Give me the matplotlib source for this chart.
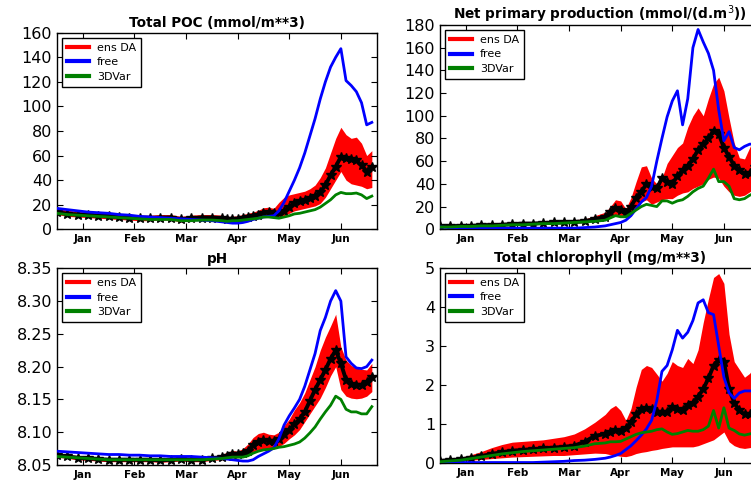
import matplotlib
matplotlib.use("Agg")
import matplotlib.pyplot as plt
from matplotlib.lines import Line2D
from matplotlib.ticker import FormatStrFormatter

# day of year; coarse in winter, finer through the spring bloom
days = [0, 6, 12, 18, 24, 30, 36, 42, 48, 54, 60, 66, 72, 78, 84, 90,
        96, 99, 102, 105, 108, 111, 114, 117, 120, 123, 126, 129, 132, 135, 138,
        141, 144, 147, 150, 153, 156, 159, 162, 165, 168, 171, 174, 177, 180, 183]
months = ["Jan", "Feb", "Mar", "Apr", "May", "Jun"]
month_ticks = [15, 45, 75, 105, 135, 165]
legend_labels = ["ens DA", "free", "3DVar"]

# Total POC
poc_free = [17, 16, 15, 14, 13.5, 13, 12, 11.5, 10.5, 10, 9.5, 9, 8.5, 8, 7.5, 7,
            6, 5.5, 5, 5, 5.5, 6.5, 8, 9, 10, 10.5, 11, 15, 22, 31, 40,
            50, 62, 76, 90, 106, 120, 132, 140, 147, 121, 117, 112, 103, 85, 87]
poc_mean = [14, 12.5, 12, 11.5, 11, 10.5, 10, 9.5, 9, 9, 9.5, 9.5, 8, 9, 9.5, 9.5,
            9, 8, 8, 8.5, 9.5, 10, 11, 12, 13.5, 14, 13, 13, 15, 18, 21,
            23, 24, 25.5, 27, 30, 36, 44, 51, 59, 58, 57, 56, 52, 47, 51]
poc_hi = [17, 15.5, 14.5, 14, 13.5, 13, 12.5, 12, 11.5, 11.5, 12, 12, 10.5, 11.5, 12, 12,
          11.5, 10.5, 10.5, 11, 12, 13, 14, 15.5, 17.5, 18, 17, 22, 26, 28, 29,
          30, 31, 33, 36, 42, 50, 62, 74, 83, 77, 74, 75, 70, 60, 64]
poc_lo = [12, 10.5, 10, 9.5, 9, 8.5, 8, 7.5, 7, 7, 7.5, 7.5, 6, 7, 7.5, 7.5,
          7, 6, 6, 6.5, 7.5, 8, 9, 10, 11, 11, 10, 10, 11, 13, 15,
          16, 17, 18, 19, 21, 26, 33, 40, 47, 40, 37, 36, 35, 33, 34]
poc_3dvar = [13, 12, 11.5, 11, 10.5, 10, 9.5, 9, 8.5, 8, 8, 8, 7, 7, 7.5, 7.5,
             7, 6.5, 7, 7, 7.5, 8, 8.5, 9, 10, 10, 9.5, 9, 10, 11, 12.5,
             13, 14, 15, 16, 18, 21, 24, 28, 30, 29, 29, 29.5, 28, 25, 27]

# Net primary production
npp_free = [2, 1.5, 1.5, 1, 1, 1, 1, 1, 1, 1, 1, 1, 1, 1, 1.5, 2,
            3, 4, 5, 6, 8, 12, 18, 24, 28, 38, 60, 80, 99, 113, 122,
            92, 115, 160, 176, 165, 155, 140, 105, 78, 86, 72, 70, 73, 75, 75]
npp_mean = [2.5, 2.5, 3, 3, 3.5, 3.5, 4, 4.5, 5, 5, 5.5, 6, 6, 6.5, 7, 9,
            11, 15, 19, 17, 14, 20, 28, 33, 40, 37, 36, 45, 42, 40, 47,
            52, 56, 62, 70, 75, 80, 87, 84, 72, 64, 56, 52, 49, 50, 55]
npp_hi = [3.5, 3.5, 4, 4, 4.5, 5, 5, 5.5, 6, 6.5, 7, 7.5, 8, 8.5, 9, 12,
          15, 20, 26, 25, 18, 28, 42, 55, 56, 45, 40, 45, 58, 65, 72,
          76, 90, 100, 107, 100, 115, 128, 134, 122, 98, 76, 63, 62, 72, 82]
npp_lo = [1.5, 1.5, 2, 2, 2.5, 2.5, 3, 3.5, 4, 4, 4.5, 5, 5, 5.5, 6, 7,
          8, 11, 13, 12, 11, 15, 20, 24, 26, 22, 24, 26, 27, 27, 30,
          32, 33, 36, 38, 40, 44, 46, 45, 38, 33, 30, 29, 30, 33, 36]
npp_3dvar = [2, 2, 2.5, 2.5, 3, 3, 3.5, 4, 4, 4.5, 5, 5, 5.5, 6, 6.5, 7,
             8, 10, 12, 11, 11, 14, 17, 20, 22, 21, 20, 25, 25, 23, 25,
             26, 29, 33, 36, 38, 45, 53, 42, 42, 38, 27, 26, 27, 30, 32]

# pH
ph_free = [8.071, 8.070, 8.069, 8.068, 8.067, 8.066, 8.066, 8.065, 8.065, 8.064, 8.064, 8.063, 8.063, 8.063, 8.062, 8.061,
           8.060, 8.059, 8.058, 8.057, 8.056, 8.056, 8.058, 8.063, 8.067, 8.071, 8.076, 8.090, 8.111, 8.125, 8.137,
           8.150, 8.170, 8.195, 8.220, 8.255, 8.275, 8.300, 8.316, 8.300, 8.215, 8.205, 8.198, 8.197, 8.200, 8.210]
ph_mean = [8.065, 8.063, 8.061, 8.060, 8.059, 8.058, 8.058, 8.058, 8.058, 8.058, 8.057, 8.058, 8.059, 8.058, 8.058, 8.060,
           8.062, 8.064, 8.066, 8.066, 8.068, 8.072, 8.080, 8.085, 8.088, 8.087, 8.086, 8.090, 8.097, 8.104, 8.112,
           8.120, 8.131, 8.148, 8.165, 8.180, 8.195, 8.212, 8.225, 8.205, 8.180, 8.174, 8.172, 8.172, 8.177, 8.184]
ph_hi = [8.068, 8.066, 8.064, 8.063, 8.062, 8.061, 8.061, 8.061, 8.061, 8.061, 8.060, 8.061, 8.062, 8.061, 8.061, 8.063,
         8.066, 8.070, 8.072, 8.071, 8.075, 8.082, 8.092, 8.098, 8.100, 8.097, 8.096, 8.100, 8.110, 8.120, 8.134,
         8.145, 8.160, 8.180, 8.200, 8.225, 8.245, 8.262, 8.280, 8.230, 8.210, 8.202, 8.198, 8.196, 8.195, 8.205]
ph_lo = [8.062, 8.060, 8.058, 8.057, 8.056, 8.055, 8.055, 8.055, 8.055, 8.055, 8.054, 8.055, 8.056, 8.055, 8.055, 8.057,
         8.058, 8.060, 8.061, 8.061, 8.062, 8.064, 8.068, 8.072, 8.074, 8.074, 8.075, 8.078, 8.083, 8.090, 8.096,
         8.104, 8.116, 8.128, 8.140, 8.152, 8.168, 8.186, 8.200, 8.165, 8.155, 8.152, 8.151, 8.152, 8.155, 8.162]
ph_3dvar = [8.063, 8.062, 8.061, 8.060, 8.059, 8.058, 8.058, 8.058, 8.058, 8.058, 8.058, 8.058, 8.058, 8.058, 8.058, 8.059,
            8.060, 8.061, 8.062, 8.062, 8.062, 8.064, 8.068, 8.071, 8.073, 8.074, 8.075, 8.077, 8.078, 8.080, 8.082,
            8.085, 8.091, 8.099, 8.108, 8.120, 8.131, 8.141, 8.155, 8.150, 8.135, 8.131, 8.131, 8.128, 8.128, 8.139]

# Total chlorophyll
chl_free = [0.02, 0.02, 0.02, 0.02, 0.02, 0.02, 0.02, 0.02, 0.02, 0.02, 0.03, 0.04, 0.05, 0.07, 0.08, 0.10,
            0.13, 0.16, 0.20, 0.25, 0.35, 0.45, 0.58, 0.72, 0.88, 1.1, 1.6, 2.35, 2.5, 2.9, 3.4,
            3.2, 3.35, 3.65, 4.1, 4.18, 3.85, 3.8, 3.0, 2.2, 1.8, 1.66, 1.8, 1.85, 1.85, 1.85]
chl_mean = [0.06, 0.08, 0.1, 0.14, 0.18, 0.24, 0.28, 0.32, 0.34, 0.36, 0.38, 0.4, 0.42, 0.45, 0.55, 0.7,
            0.75, 0.8, 0.85, 0.82, 0.9, 1.05, 1.25, 1.38, 1.42, 1.38, 1.32, 1.3, 1.32, 1.45, 1.4,
            1.35, 1.5, 1.55, 1.7, 1.9, 2.17, 2.5, 2.65, 2.6, 1.9, 1.55, 1.35, 1.25, 1.25, 1.3]
chl_hi = [0.1, 0.12, 0.15, 0.22, 0.3, 0.4, 0.48, 0.54, 0.56, 0.58, 0.6, 0.64, 0.68, 0.75, 0.88, 1.05,
          1.25, 1.4, 1.48, 1.35, 1.1, 1.4, 1.95, 2.4, 2.5, 2.45, 2.28, 2.1, 2.3, 2.6, 2.5,
          2.45, 2.68, 2.55, 2.9, 3.6, 4.2, 4.75, 4.85, 4.6, 3.3, 2.6, 2.4, 2.2, 2.3, 2.5]
chl_lo = [0.02, 0.04, 0.06, 0.08, 0.1, 0.12, 0.14, 0.16, 0.17, 0.18, 0.19, 0.2, 0.2, 0.22, 0.24, 0.26,
          0.25, 0.22, 0.2, 0.18, 0.17, 0.2, 0.25, 0.28, 0.3, 0.33, 0.35, 0.38, 0.4, 0.42, 0.42,
          0.42, 0.42, 0.42, 0.45, 0.5, 0.55, 0.6, 0.7, 0.8, 0.55, 0.45, 0.4, 0.38, 0.4, 0.42]
chl_3dvar = [0.04, 0.06, 0.08, 0.12, 0.16, 0.2, 0.24, 0.27, 0.3, 0.32, 0.34, 0.36, 0.38, 0.4, 0.44, 0.5,
             0.52, 0.55, 0.55, 0.56, 0.62, 0.68, 0.74, 0.78, 0.8, 0.82, 0.86, 0.88, 0.8, 0.74, 0.76,
             0.8, 0.84, 0.82, 0.82, 0.86, 0.95, 1.35, 0.9, 1.42, 0.9, 0.84, 0.75, 0.72, 0.75, 0.78]


def draw_panel(ax, lo, hi, mean, free, var, title, ylim, yticks, fmt=None):
	# ensemble spread and mean
	ax.fill_between(days, lo, hi, color="#ff0000", lw=0, zorder=1)
	ax.plot(days, mean, color="k", lw=2.8, marker="*", ms=7, zorder=2)
	ax.plot(days, free, color="#0000ff", lw=2.0, zorder=3)
	ax.plot(days, var, color="#008000", lw=2.0, zorder=4)

	ax.set_xlim(0, 186)
	ax.set_ylim(*ylim)
	ax.set_yticks(yticks)
	if fmt is not None:
		ax.yaxis.set_major_formatter(FormatStrFormatter(fmt))
	ax.set_xticks(month_ticks)
	ax.set_xticklabels(months, fontsize=7.5, fontweight="bold")
	ax.tick_params(axis="y", labelsize=11.5)
	ax.tick_params(direction="in", top=True, right=True, length=4, width=0.8)
	for s in ax.spines.values():
		s.set_linewidth(1.0)
	ax.set_title(title, fontsize=9.8, fontweight="bold", pad=4)

	handles = [Line2D([], [], color="#ff0000", lw=3),
			   Line2D([], [], color="#0000ff", lw=3),
			   Line2D([], [], color="#008000", lw=3)]
	leg = ax.legend(handles, legend_labels, loc="upper left", fontsize=8, fancybox=False,
					framealpha=1, edgecolor="black", handlelength=2.0, labelspacing=0.4,
					borderaxespad=0.45, borderpad=0.45, handletextpad=0.7)
	leg.get_frame().set_linewidth(1.0)
	leg.set_zorder(10)


fig = plt.figure(figsize=(7.51, 4.82), dpi=100)
ax1 = fig.add_axes([0.0759, 0.5243, 0.4261, 0.4079])
ax2 = fig.add_axes([0.5859, 0.5243, 0.4261, 0.4239])
ax3 = fig.add_axes([0.0759, 0.0353, 0.4261, 0.4080])
ax4 = fig.add_axes([0.5859, 0.0388, 0.4261, 0.4058])

draw_panel(ax1, poc_lo, poc_hi, poc_mean, poc_free, poc_3dvar, "Total POC (mmol/m**3)",
		   (0, 160), [0, 20, 40, 60, 80, 100, 120, 140, 160])
draw_panel(ax2, npp_lo, npp_hi, npp_mean, npp_free, npp_3dvar, r"Net primary production (mmol/(d.m$^3$))",
		   (0, 180), [0, 20, 40, 60, 80, 100, 120, 140, 160, 180])
draw_panel(ax3, ph_lo, ph_hi, ph_mean, ph_free, ph_3dvar, "pH",
		   (8.05, 8.35), [8.05, 8.10, 8.15, 8.20, 8.25, 8.30, 8.35], fmt="%.2f")
draw_panel(ax4, chl_lo, chl_hi, chl_mean, chl_free, chl_3dvar, "Total chlorophyll (mg/m**3)",
		   (0, 5), [0, 1, 2, 3, 4, 5])

fig.savefig("out.png", dpi=100)
